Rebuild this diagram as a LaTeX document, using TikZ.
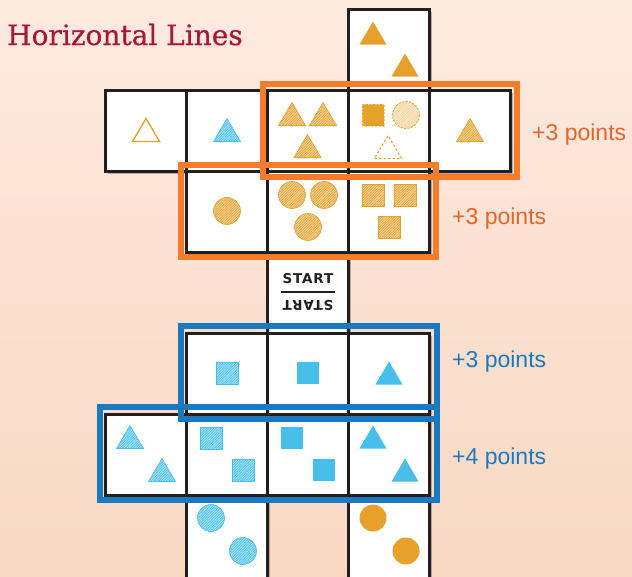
\documentclass[tikz,border=0pt]{standalone}
\usepackage{fontspec}
\setmainfont{Liberation Sans}
\newfontfamily\titlefont{DejaVu Serif}[FakeBold=0.6]
\newfontfamily\startfont{DejaVu Sans}[LetterSpace=6]
\usetikzlibrary{patterns.meta}

\definecolor{amber}{HTML}{E6A12B}
\definecolor{sky}{HTML}{47BFEA}
\definecolor{frameorange}{HTML}{F47C2A}
\definecolor{frameblue}{HTML}{1A79BF}
\definecolor{labelorange}{HTML}{E2652C}
\definecolor{titlered}{HTML}{A8173B}
\definecolor{cellline}{HTML}{231F20}
\definecolor{bgtop}{HTML}{FDEADF}
\definecolor{bgbottom}{HTML}{F9D8C3}

\tikzset{
    fullshape/.style={fill=#1},
    hatchshape/.style={preaction={fill=#1!45!white}, pattern={Lines[angle=45,distance=1.8pt,line width=0.7pt]}, pattern color=#1, draw=#1, line width=0.6pt},
    openshape/.style={draw=#1, line width=1.3pt},
    ghostfull/.style={fill=#1, draw=#1!55!white, line width=1pt, dash pattern=on 2pt off 1.5pt},
    ghosthatch/.style={preaction={fill=#1!22!white}, pattern={Lines[angle=45,distance=1.8pt,line width=0.5pt]}, pattern color=#1!55!white, draw=#1, line width=0.8pt, dash pattern=on 2pt off 1.5pt},
    ghostopen/.style={draw=#1, line width=1pt, dash pattern=on 2.5pt off 2pt},
    cellbox/.style={draw=cellline, line width=3pt, fill=white, minimum width=81pt, minimum height=81pt, inner sep=0pt, outer sep=0pt, anchor=north west},
    pointsbox/.style={line width=6pt, draw=#1},
    pointslabel/.style={anchor=base west, inner sep=0pt, font=\fontsize{23}{23}\selectfont, text=#1},
}

\newcommand\Tri[3]{% x, y, style
    \path[#3] (#1-13.5,#2+11.5) -- (#1+13.5,#2+11.5) -- (#1,#2-11.5) -- cycle;%
}
\newcommand\Sq[3]{% x, y, style
    \path[#3] (#1-11,#2-11) rectangle (#1+11,#2+11);%
}
\newcommand\Disc[3]{% x, y, style
    \path[#3] (#1,#2) circle[radius=13.5];%
}

\begin{document}
\begin{tikzpicture}[x=1pt, y=-1pt]
    \useasboundingbox (0,0) rectangle (632,576);
    % Background
    \shade[top color=bgtop, bottom color=bgbottom] (0,0) rectangle (632,576);

    % Title
    \node[anchor=base west, inner sep=0pt, font=\titlefont\fontsize{28}{28}\selectfont, text=titlered] (title) at (7,45) {Horizontal Lines};

    % Shadows of the cells
    \foreach \c/\r in {3/0, 0/1,1/1,2/1,3/1,4/1, 1/2,2/2,3/2, 2/3, 1/4,2/4,3/4, 0/5,1/5,2/5,3/5, 1/6,3/6} {
        \fill[black, opacity=.25] (105+81*\c+3,9+81*\r+3) rectangle +(81,81);
    }
    % Cells
    \foreach \c/\r in {3/0, 0/1,1/1,2/1,3/1,4/1, 1/2,2/2,3/2, 2/3, 1/4,2/4,3/4, 0/5,1/5,2/5,3/5} {
        \node[cellbox] (cell\r\c) at (105+81*\c,9+81*\r) {};
    }
    \foreach \c in {1,3} {
        \node[cellbox, minimum height=95pt] (cell6\c) at (105+81*\c,495) {};
    }

    % Start cell
    \node[font=\startfont\bfseries\fontsize{13.5}{13.5}\selectfont, text=cellline, inner sep=0pt] (start) at (308,279) {START};
    \node[font=\startfont\bfseries\fontsize{13.5}{13.5}\selectfont, text=cellline, inner sep=0pt, rotate=180] (trats) at (308,305) {START};
    \draw[cellline, line width=1.3pt] (281,292) -- (335,292);

    % Orange shapes, top part
    \Tri{373}{33}{fullshape=amber}
    \Tri{405}{65}{fullshape=amber}

    \Tri{146}{130}{openshape=amber}
    \Tri{227}{130}{hatchshape=sky}
    \Tri{292}{114}{hatchshape=amber}
    \Tri{323}{114}{hatchshape=amber}
    \Tri{307.5}{146}{hatchshape=amber}
    \Sq{373}{115}{ghostfull=amber}
    \Disc{406}{115}{ghosthatch=amber}
    \Tri{388}{147}{ghostopen=amber}
    \Tri{470}{130}{hatchshape=amber}

    \Disc{227}{211}{hatchshape=amber}
    \Disc{292}{195}{hatchshape=amber}
    \Disc{324}{195}{hatchshape=amber}
    \Disc{308}{227}{hatchshape=amber}
    \Sq{373}{195}{hatchshape=amber}
    \Sq{405}{195}{hatchshape=amber}
    \Sq{389}{227}{hatchshape=amber}

    % Blue shapes, bottom part
    \Sq{227}{373}{hatchshape=sky}
    \Sq{308}{373}{fullshape=sky}
    \Tri{389}{373}{fullshape=sky}

    \Tri{130}{437}{hatchshape=sky}
    \Tri{162}{470}{hatchshape=sky}
    \Sq{211}{438}{hatchshape=sky}
    \Sq{243}{470}{hatchshape=sky}
    \Sq{292}{438}{fullshape=sky}
    \Sq{324}{470}{fullshape=sky}
    \Tri{373}{437}{fullshape=sky}
    \Tri{405}{470}{fullshape=sky}

    \Disc{211}{518}{hatchshape=sky}
    \Disc{243}{551}{hatchshape=sky}
    \Disc{373}{518}{fullshape=amber}
    \Disc{406}{551}{fullshape=amber}

    % Scoring lines
    \draw[pointsbox=frameorange] (263,84) rectangle (517,177);
    \draw[pointsbox=frameorange] (181,165) rectangle (436,257);
    \draw[pointsbox=frameblue] (181,326) rectangle (437,419);
    \draw[pointsbox=frameblue] (100,407) rectangle (437,500);

    % Points
    \node[pointslabel=labelorange] (points1) at (532,140) {+3 points};
    \node[pointslabel=labelorange] (points2) at (452,224) {+3 points};
    \node[pointslabel=frameblue] (points3) at (452,367) {+3 points};
    \node[pointslabel=frameblue] (points4) at (452,464) {+4 points};
\end{tikzpicture}
\end{document}
